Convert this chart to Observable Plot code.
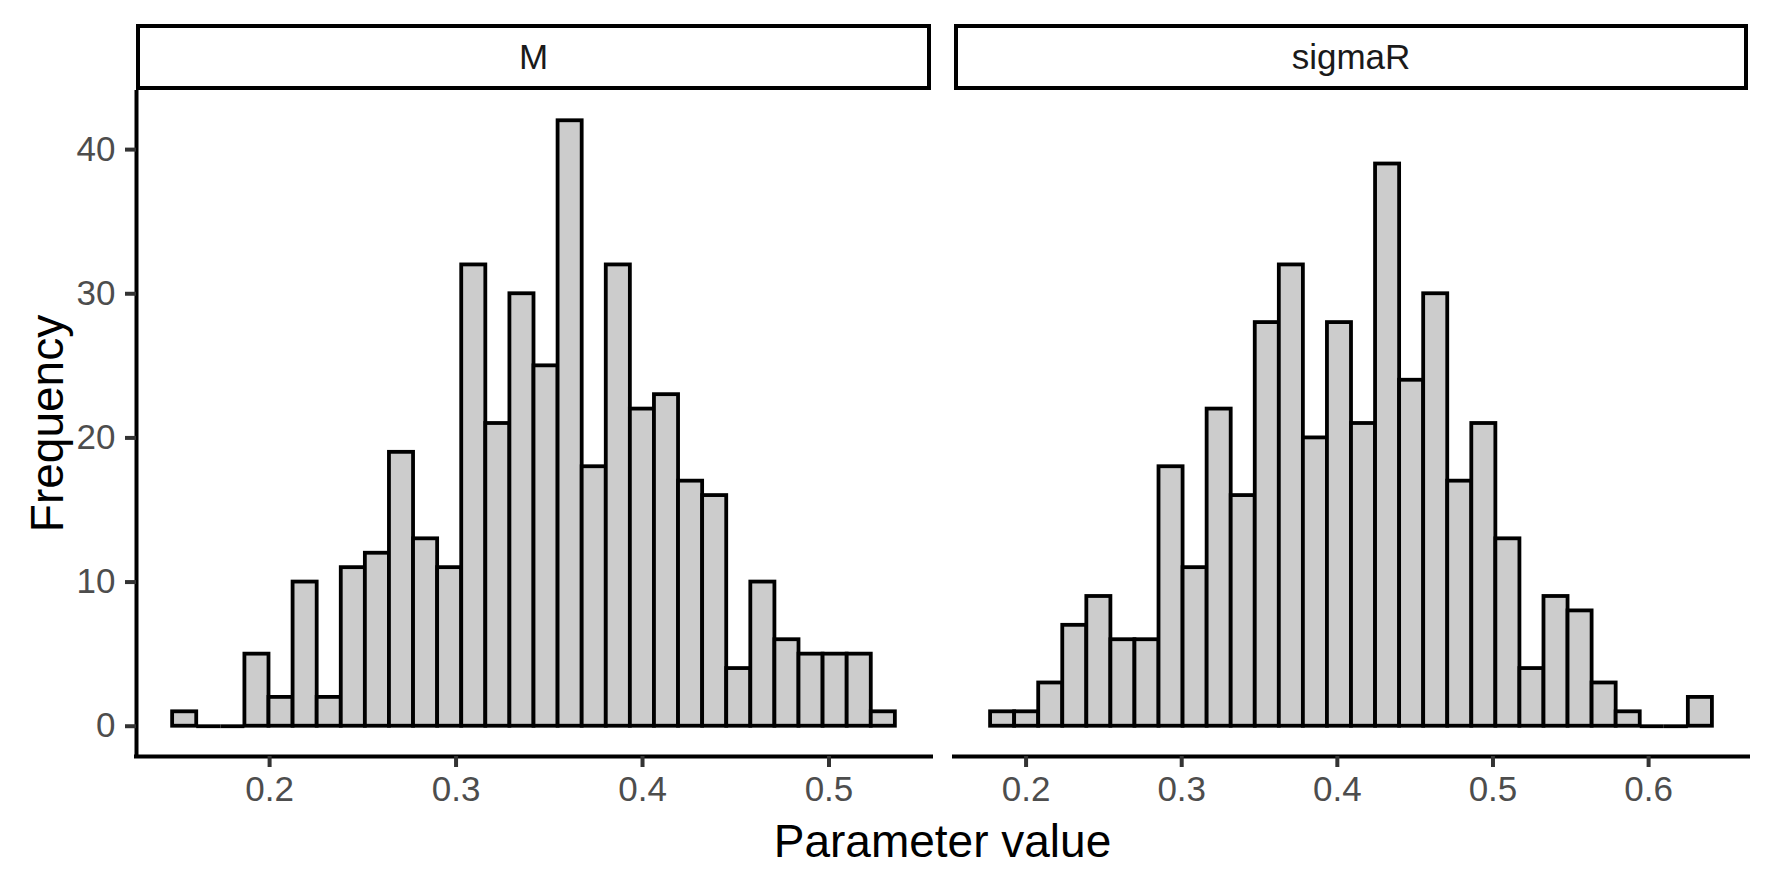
<!DOCTYPE html>
<html>
<head>
<meta charset="utf-8">
<script src="https://cdn.jsdelivr.net/npm/d3@7"></script>
<script src="https://cdn.jsdelivr.net/npm/@observablehq/plot@0.6"></script>
<style>
html, body { margin: 0; padding: 0; background: #fff; }
#chart { position: relative; width: 1771px; height: 885px; font-family: "Liberation Sans", Arial, sans-serif; }
#chart svg { position: absolute; left: 0; top: 0; overflow: visible; }
.strip { position: absolute; top: 24px; height: 66px; border: 4px solid #000; box-sizing: border-box; background: #fff;
  display: flex; align-items: center; justify-content: center; font-size: 35px; color: #1a1a1a; }
</style>
</head>
<body>
<div id="chart"></div>
<script>
// ---- data ----
const panels = ["M", "sigmaR"];
const xTitle = "Parameter value";
const yTitle = "Frequency";

const mBinStart = 0.1480;
const mBinWidth = 0.01292;
const mCounts = [1, 0, 0, 5, 2, 10, 2, 11, 12, 19, 13, 11, 32, 21, 30, 25, 42, 18, 32, 22, 23, 17, 16, 4, 10, 6, 5, 5, 5, 1];

const sBinStart = 0.1772;
const sBinWidth = 0.01546;
const sCounts = [1, 1, 3, 7, 9, 6, 6, 18, 11, 22, 16, 28, 32, 20, 28, 21, 39, 24, 30, 17, 21, 13, 4, 9, 8, 3, 1, 0, 0, 2];

const mTicks = [0.2, 0.3, 0.4, 0.5];
const sTicks = [0.2, 0.3, 0.4, 0.5, 0.6];
const yTicks = [0, 10, 20, 30, 40];

// ---- build ----
const W = 1771, H = 885;
const FONT = '"Liberation Sans", Arial, sans-serif';
const makeBins = (start, w, counts) => counts.map((c, i) => ({x1: start + i * w, x2: start + (i + 1) * w, count: c}));
const mBins = makeBins(mBinStart, mBinWidth, mCounts);
const sBins = makeBins(sBinStart, sBinWidth, sCounts);

const maxCount = d3.max([...mCounts, ...sCounts]);
const yDomain = [-0.05 * maxCount, 1.05 * maxCount];
const expand = (bins) => {
  const lo = d3.min(bins, d => d.x1), hi = d3.max(bins, d => d.x2), r = hi - lo;
  return [lo - 0.05 * r, hi + 0.05 * r];
};

const panelBox = [
  {left: 136, right: 931},
  {left: 954, right: 1748}
];

function makePanel(bins, ticks, box, first) {
  const xd = expand(bins);
  const marks = [
    Plot.rect(bins.filter(d => d.count > 0), {x1: "x1", x2: "x2", y1: 0, y2: "count", fill: "#cccccc", stroke: "#000", strokeWidth: 3.8, strokeLinejoin: "miter"}),
    Plot.ruleY(bins.filter(d => d.count === 0), {x1: "x1", x2: "x2", y: 0, stroke: "#000", strokeWidth: 3.8}),
    Plot.ruleY([yDomain[0]], {stroke: "#000", strokeWidth: 4, strokeLinecap: "square"}),
    Plot.axisX(ticks, {tickSize: 11, tickPadding: 9, stroke: "#333333", strokeWidth: 4, fill: "#4d4d4d", fontSize: 35, tickFormat: d3.format(".1f"), label: null})
  ];
  if (first) {
    marks.push(
      Plot.ruleX([xd[0]], {stroke: "#000", strokeWidth: 4}),
      Plot.axisY(yTicks, {tickSize: 11, tickPadding: 10, stroke: "#333333", strokeWidth: 4, fill: "#4d4d4d", fontSize: 35, label: null}),
      Plot.text([yTitle], {frameAnchor: "left", dx: -88, rotate: -90, fontSize: 46, fill: "#000", textAnchor: "middle", lineAnchor: "middle"}),
      Plot.text([xTitle], {frameAnchor: "bottom", dx: (panelBox[0].left + panelBox[1].right) / 2 - (box.left + box.right) / 2, dy: 86, fontSize: 46, fill: "#000", textAnchor: "middle", lineAnchor: "middle"})
    );
  }
  return Plot.plot({
    width: W, height: H,
    marginLeft: box.left, marginRight: W - box.right,
    marginTop: 90, marginBottom: H - 756,
    x: {domain: xd, axis: null},
    y: {domain: yDomain, axis: null},
    style: {background: first ? "white" : "transparent", fontFamily: FONT, overflow: "visible"},
    marks
  });
}

const chart = document.getElementById("chart");
chart.appendChild(makePanel(mBins, mTicks, panelBox[0], true));
chart.appendChild(makePanel(sBins, sTicks, panelBox[1], false));

panels.forEach((name, i) => {
  const d = document.createElement("div");
  d.className = "strip";
  d.style.left = panelBox[i].left + "px";
  d.style.width = (panelBox[i].right - panelBox[i].left) + "px";
  d.textContent = name;
  chart.appendChild(d);
});
</script>
</body>
</html>
